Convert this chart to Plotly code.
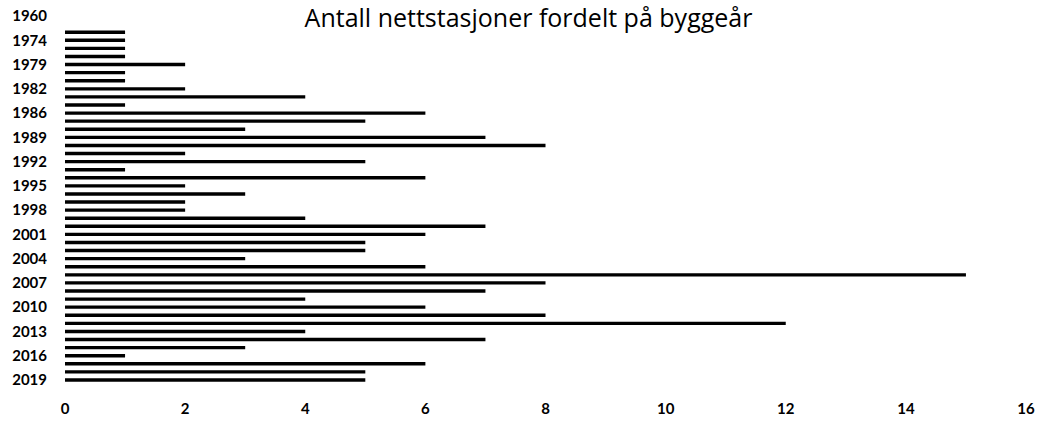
import plotly.graph_objects as go

years = ["1960", "1970", "1972", "1974", "1976", "1977", "1979", "1980", "1981", "1982",
         "1983", "1984", "1986", "1987", "1988", "1989", "1990", "1991", "1992", "1993",
         "1994", "1995", "1996", "1997", "1998", "1999", "2000", "2001", "2002", "2003",
         "2004", "2005", "2006", "2007", "2008", "2009", "2010", "2011", "2012", "2013",
         "2014", "2015", "2016", "2017", "2018", "2019"]
counts = [0, 0, 1, 1, 1, 1, 2, 1, 1, 2,
          4, 1, 6, 5, 3, 7, 8, 2, 5, 1,
          6, 2, 3, 2, 2, 4, 7, 6, 5, 5,
          3, 6, 15, 8, 7, 4, 6, 8, 12, 4,
          7, 3, 1, 6, 5, 5]
labeled_years = years[::3]
x_ticks = [0, 2, 4, 6, 8, 10, 12, 14, 16]
title_text = "Antall nettstasjoner fordelt på byggeår"

fig = go.Figure(go.Bar(
    x=counts, y=years, orientation="h",
    marker=dict(color="black", line=dict(width=0)),
))

fig.update_layout(
    width=1041, height=423,
    paper_bgcolor="white", plot_bgcolor="white",
    margin=dict(l=65, r=15, t=12, b=39),
    bargap=0.58,
    showlegend=False,
    title=dict(text=title_text, x=0.5077, xanchor="center", y=0.957, yanchor="middle",
               font=dict(family="Open Sans", size=25, color="black")),
    font=dict(family="Lato", color="black"),
)
fig.update_xaxes(
    range=[0, 16], tickvals=x_ticks, showgrid=False, zeroline=False, showline=False,
    tickfont=dict(family="Lato", size=15, color="black", weight="bold"),
    ticklabelstandoff=14, automargin=False, fixedrange=True,
)
fig.update_yaxes(
    type="category", categoryorder="array", categoryarray=years,
    autorange="reversed", tickvals=labeled_years, showgrid=False, zeroline=False,
    showline=False, tickfont=dict(family="Lato", size=15, color="black", weight="bold"),
    ticklabelstandoff=17, automargin=False,
)

fig.write_html("out.html", config={"displayModeBar": False},
               post_script="document.body.style.margin='0';")
